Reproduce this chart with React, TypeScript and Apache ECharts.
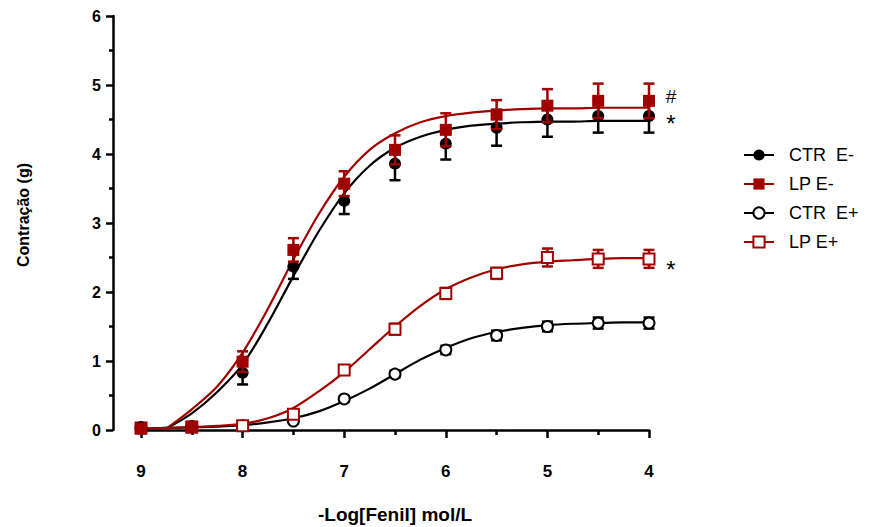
import React, { useEffect, useRef } from 'react';
import * as echarts from 'echarts';

// ---- data ----
const doses = [9, 8.5, 8, 7.5, 7, 6.5, 6, 5.5, 5, 4.5, 4];

const ctrEMinus = [0.04, 0.05, 0.83, 2.37, 3.32, 3.86, 4.15, 4.38, 4.5, 4.55, 4.55];
const ctrEMinusErr = [0.02, 0.03, 0.17, 0.18, 0.19, 0.24, 0.23, 0.26, 0.25, 0.24, 0.24];
const lpEMinus = [0.02, 0.05, 0.99, 2.61, 3.57, 4.06, 4.35, 4.57, 4.7, 4.77, 4.77];
const lpEMinusErr = [0.02, 0.03, 0.15, 0.17, 0.18, 0.21, 0.24, 0.21, 0.24, 0.25, 0.25];
const ctrEPlus = [0.03, 0.05, 0.06, 0.13, 0.45, 0.81, 1.16, 1.37, 1.5, 1.55, 1.55];
const ctrEPlusErr = [0.02, 0.02, 0.02, 0.03, 0.04, 0.05, 0.06, 0.07, 0.07, 0.08, 0.08];
const lpEPlus = [0.03, 0.04, 0.06, 0.23, 0.87, 1.46, 1.98, 2.27, 2.5, 2.48, 2.48];
const lpEPlusErr = [0.02, 0.02, 0.03, 0.04, 0.05, 0.08, 0.08, 0.08, 0.13, 0.13, 0.13];

// fitted curves
const fitXMinus = [8.75, 8.5, 8.25, 8, 7.75, 7.5, 7.25, 7, 6.75, 6.5, 6.25, 6, 5.75, 5.5, 5.25, 5, 4.75, 4.5, 4.25, 4];
const ctrEMinusFit = [0.02, 0.24, 0.55, 0.95, 1.55, 2.23, 2.88, 3.43, 3.83, 4.09, 4.25, 4.35, 4.41, 4.44, 4.46, 4.47, 4.47, 4.48, 4.48, 4.48];
const lpEMinusFit = [0.02, 0.3, 0.63, 1.12, 1.76, 2.47, 3.13, 3.67, 4.06, 4.3, 4.46, 4.55, 4.6, 4.63, 4.65, 4.66, 4.66, 4.67, 4.67, 4.67];
const fitXPlus = [9, 8.75, 8.5, 8.25, 8, 7.75, 7.5, 7.25, 7, 6.75, 6.5, 6.25, 6, 5.75, 5.5, 5.25, 5, 4.75, 4.5, 4.25, 4];
const ctrEPlusFit = [0.02, 0.03, 0.04, 0.05, 0.07, 0.11, 0.17, 0.27, 0.42, 0.6, 0.81, 1.02, 1.19, 1.33, 1.42, 1.48, 1.52, 1.54, 1.55, 1.56, 1.56];
const lpEPlusFit = [0.02, 0.03, 0.04, 0.06, 0.09, 0.17, 0.32, 0.56, 0.84, 1.17, 1.5, 1.8, 2.04, 2.21, 2.33, 2.4, 2.44, 2.46, 2.48, 2.49, 2.49];

const seriesNames = ['CTR  E-', 'LP E-', 'CTR  E+', 'LP E+'];

const annotX = [4, 4, 4];
const annotY = [4.83, 4.44, 2.33];
const annotText = ['#', '*', '*'];
const annotSize = [19, 24, 24];

const xTitle = '-Log[Fenil] mol/L';
const yTitle = 'Contração (g)';

const RED = '#A00000';
const BLACK = '#000000';
const FONT = "'Liberation Sans', Arial, Helvetica, sans-serif";

function pts(xs: number[], ys: number[]) {
  return xs.map((x, i) => [x, ys[i]]);
}
function errPts(xs: number[], ys: number[], es: number[]) {
  return xs.map((x, i) => [x, ys[i], es[i]]);
}

function errorSeries(data: number[][], color: string, z: number) {
  return {
    type: 'custom',
    z,
    silent: true,
    encode: { x: 0, y: 1 },
    data,
    renderItem: (_params: any, api: any) => {
      const x = api.value(0);
      const y = api.value(1);
      const e = api.value(2);
      const top = api.coord([x, y + e]);
      const bot = api.coord([x, y - e]);
      const hw = 5.5;
      const style = { stroke: color, lineWidth: 2.5 };
      return {
        type: 'group',
        children: [
          { type: 'line', shape: { x1: top[0], y1: top[1], x2: bot[0], y2: bot[1] }, style },
          { type: 'line', shape: { x1: top[0] - hw, y1: top[1], x2: top[0] + hw, y2: top[1] }, style },
          { type: 'line', shape: { x1: bot[0] - hw, y1: bot[1], x2: bot[0] + hw, y2: bot[1] }, style },
        ],
      };
    },
  };
}

function markerSeries(name: string, data: number[][], color: string, symbol: string, size: number, z: number) {
  const empty = symbol.indexOf('empty') === 0;
  return {
    type: 'scatter',
    name,
    z,
    silent: true,
    data,
    symbol,
    symbolSize: size,
    itemStyle: empty
      ? { color, borderColor: color, borderWidth: 3, opacity: 1 }
      : { color, opacity: 1 },
  };
}

function curveSeries(name: string, data: number[][], color: string, symbol: string) {
  return {
    type: 'line',
    name,
    z: 2,
    silent: true,
    data,
    smooth: 0.3,
    showSymbol: false,
    symbol,
    itemStyle: { color },
    lineStyle: { color, width: 2.2 },
  };
}

export default function App() {
  const ref = useRef<HTMLDivElement>(null);

  useEffect(() => {
    if (!ref.current) return;
    const chart = echarts.init(ref.current, undefined, { renderer: 'svg' });
    const axisLineStyle = { color: BLACK, width: 2.5 };
    const option: any = {
      animation: false,
      backgroundColor: '#ffffff',
      grid: { left: 141, right: 223, top: 16, bottom: 97, containLabel: false, outerBoundsMode: 'none' },
      xAxis: {
        type: 'value',
        min: 4,
        max: 9,
        interval: 1,
        inverse: true,
        offset: 21,
        axisLine: { show: true, lineStyle: axisLineStyle },
        axisTick: { show: true, length: 8, lineStyle: axisLineStyle },
        minorTick: { show: true, splitNumber: 2, length: 5, lineStyle: axisLineStyle },
        splitLine: { show: false },
        minorSplitLine: { show: false },
        axisLabel: { margin: 12, fontSize: 17, fontWeight: 'bold', color: BLACK, fontFamily: FONT },
        name: xTitle,
        nameLocation: 'middle',
        nameGap: 54,
        nameTextStyle: { fontSize: 19, fontWeight: 'bold', color: BLACK, fontFamily: FONT },
      },
      yAxis: {
        type: 'value',
        min: 0,
        max: 6,
        interval: 1,
        offset: 28,
        axisLine: { show: true, lineStyle: axisLineStyle },
        axisTick: { show: true, length: 7, lineStyle: axisLineStyle },
        minorTick: { show: true, splitNumber: 2, length: 4, lineStyle: axisLineStyle },
        splitLine: { show: false },
        minorSplitLine: { show: false },
        axisLabel: { margin: 12, fontSize: 16, fontWeight: 'bold', color: BLACK, fontFamily: FONT },
      },
      legend: {
        data: seriesNames,
        orient: 'vertical',
        left: 738,
        top: 141,
        itemWidth: 30,
        itemHeight: 14,
        itemGap: 11,
        selectedMode: false,
        textStyle: { fontSize: 18, color: BLACK, fontFamily: FONT, padding: [0, 0, 0, 10], lineHeight: 14 },
      },
      graphic: [
        {
          type: 'text',
          x: 23,
          y: 215,
          rotation: Math.PI / 2,
          style: {
            text: yTitle,
            fontSize: 16,
            fontWeight: 'bold',
            fill: BLACK,
            fontFamily: FONT,
            align: 'center',
            verticalAlign: 'middle',
          },
        },
      ],
      series: [
        curveSeries(seriesNames[0], pts(fitXMinus, ctrEMinusFit), BLACK, 'circle'),
        curveSeries(seriesNames[1], pts(fitXMinus, lpEMinusFit), RED, 'rect'),
        curveSeries(seriesNames[2], pts(fitXPlus, ctrEPlusFit), BLACK, 'emptyCircle'),
        curveSeries(seriesNames[3], pts(fitXPlus, lpEPlusFit), RED, 'emptyRect'),
        errorSeries(errPts(doses, ctrEPlus, ctrEPlusErr), BLACK, 3),
        markerSeries('CTR E+ pts', pts(doses, ctrEPlus), BLACK, 'emptyCircle', 11, 4),
        errorSeries(errPts(doses, lpEPlus, lpEPlusErr), RED, 5),
        markerSeries('LP E+ pts', pts(doses, lpEPlus), RED, 'emptyRect', 11, 6),
        errorSeries(errPts(doses, ctrEMinus, ctrEMinusErr), BLACK, 7),
        markerSeries('CTR E- pts', pts(doses, ctrEMinus), BLACK, 'circle', 12, 8),
        errorSeries(errPts(doses, lpEMinus, lpEMinusErr), RED, 9),
        markerSeries('LP E- pts', pts(doses, lpEMinus), RED, 'rect', 12, 10),
        {
          type: 'custom',
          z: 11,
          silent: true,
          encode: { x: 0, y: 1 },
          data: pts(annotX, annotY),
          renderItem: (params: any, api: any) => {
            const p = api.coord([api.value(0), api.value(1)]);
            return {
              type: 'text',
              x: p[0] + 22,
              y: p[1],
              style: {
                text: annotText[params.dataIndex],
                fontSize: annotSize[params.dataIndex],
                fill: BLACK,
                fontFamily: FONT,
                align: 'center',
                verticalAlign: 'middle',
              },
            };
          },
        },
      ],
    };
    chart.setOption(option);
    return () => chart.dispose();
  }, []);

  return (
    <div
      ref={ref}
      style={{ position: 'fixed', left: 0, top: 0, width: 872, height: 527, background: '#fff' }}
    />
  );
}
